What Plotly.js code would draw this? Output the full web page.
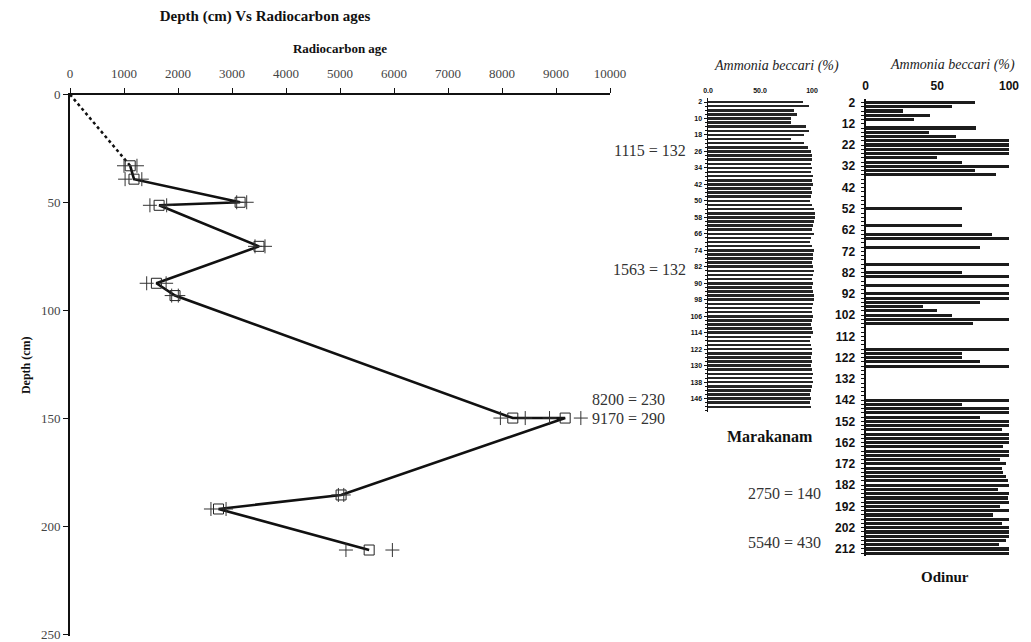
<!DOCTYPE html>
<html>
<head>
<meta charset="utf-8">
<script src="https://cdn.plot.ly/plotly-3.0.1.min.js"></script>
<style>html,body{margin:0;padding:0;background:#fff;}#chart{width:1031px;height:642px;}</style>
</head>
<body>
<div id="chart"></div>
<script>
// ---------- Main chart data: depth vs radiocarbon age ----------
const radiocarbonAge = [1115, 1185, 3150, 1650, 3500, 1600, 1945, 8200, 9170, 5020, 2750, 5540];
const sampleDepth    = [33, 39.2, 49.9, 51.3, 70.3, 87.4, 93.1, 149.8, 149.8, 185.4, 191.9, 210.9];
const ageLowError    = [1000, 1020, 3087, 1480, 3426, 1420, 1883, 7970, 8880, 4970, 2610, 5110];
const ageHighError   = [1240, 1330, 3272, 1790, 3611, 1780, 2006, 8430, 9460, 5070, 2890, 5970];
const dateLabels     = ['1115 = 132', '1563 = 132', '8200 = 230', '9170 = 290', '2750 = 140', '5540 = 430'];
const ageTicks       = [0, 1000, 2000, 3000, 4000, 5000, 6000, 7000, 8000, 9000, 10000];
const ageTickText    = ['0', '1000', '2000', '3000', '4000', '5000', '6000', '7000', '8000', '9000', '10000'];
const depthTicks     = [0, 50, 100, 150, 200, 250];

// ---------- Marakanam: Ammonia beccari (%) ----------
const maraDepth = [2,4,6,8,10,12,14,16,18,20,22,24,26,28,30,32,34,36,38,40,42,44,46,48,50,52,54,56,58,60,
  62,64,66,68,70,72,74,76,78,80,82,84,86,88,90,92,94,96,98,100,102,104,106,108,110,112,114,116,118,120,
  122,124,126,128,130,132,134,136,138,140,142,144,146,148,150];
const maraPct = [91,97,83,86,80,80,94,97,92,80,92,96,99,100,100,99,100,99,101,100,101,99,100,99,98,100,102,103,103,102,
  101,100,102,99,98,100,102,101,101,100,101,102,101,100,101,100,101,102,102,101,100,100,101,100,99,100,101,99,98,99,
  100,100,99,100,99,100,101,100,101,100,99,98,99,98,99];
const maraTicks = [2,10,18,26,34,42,50,58,66,74,82,90,98,106,114,122,130,138,146];
const maraXTicks = [0, 50, 100];
const maraXTickText = ['0.0', '50.0', '100'];

// ---------- Odinur: Ammonia beccari (%) ----------
const odiDepth = [2,4,6,8,10,14,16,18,20,22,24,26,28,30,32,34,36,52,60,64,66,70,78,82,84,88,92,94,96,98,100,102,104,106,
  118,120,122,124,126,142,144,146,148,150,152,154,156,158,160,162,164,166,168,170,172,174,176,178,180,182,184,186,188,
  190,192,194,196,198,200,202,204,206,208,210,212,214];
const odiPct = [76,60,26,45,34,77,44,63,100,100,100,100,50,67,100,76,91,67,67,88,100,80,100,67,100,100,100,100,80,40,50,60,100,75,
  100,67,67,80,100,100,67,100,100,80,100,100,95,100,100,100,96,100,100,94,98,95,96,98,99,100,92,100,99,
  100,94,100,89,100,95,100,100,100,98,93,100,100];
const odiTicks = [2,12,22,32,42,52,62,72,82,92,102,112,122,132,142,152,162,172,182,192,202,212];
const odiXTicks = [0, 50, 100];

// ---------- helpers (pixel -> paper) ----------
const W = 1031, H = 642;
const px = v => v / W;
const py = v => 1 - v / H;

const serif = 'Liberation Serif, Times New Roman, serif';
const sans = 'Liberation Sans, Arial, sans-serif';

const traces = [
  { // dotted extrapolation to surface
    x: [0, radiocarbonAge[0]], y: [0, sampleDepth[0]],
    type: 'scatter', mode: 'lines', xaxis: 'x', yaxis: 'y',
    line: { color: '#111', width: 2.5, dash: 'dot' }, hoverinfo: 'skip', showlegend: false
  },
  { // main age-depth line
    x: radiocarbonAge, y: sampleDepth,
    type: 'scatter', mode: 'lines+markers', xaxis: 'x', yaxis: 'y',
    line: { color: '#111', width: 2.6 },
    marker: { symbol: 'square-open', size: 10, color: '#222', line: { width: 1, color: '#222' } },
    showlegend: false
  },
  { // error limits (+)
    x: ageLowError.concat(ageHighError), y: sampleDepth.concat(sampleDepth),
    type: 'scatter', mode: 'markers', xaxis: 'x', yaxis: 'y',
    marker: { symbol: 'cross-thin', size: 10, color: '#333', line: { width: 1, color: '#333' } },
    showlegend: false
  },
  {
    x: maraPct, y: maraDepth, type: 'bar', orientation: 'h', xaxis: 'x2', yaxis: 'y2',
    width: 1.25, marker: { color: '#262626', line: { width: 0 } }, showlegend: false
  },
  {
    x: odiPct, y: odiDepth, type: 'bar', orientation: 'h', xaxis: 'x3', yaxis: 'y3',
    width: 1.45, marker: { color: '#1c1c1c', line: { width: 0 } }, showlegend: false
  }
];

const annotations = [
  { text: dateLabels[0], x: px(688), y: py(150), xanchor: 'right' },
  { text: dateLabels[1], x: px(688), y: py(270), xanchor: 'right' },
  { text: dateLabels[2], x: px(590), y: py(399), xanchor: 'left' },
  { text: dateLabels[3], x: px(590), y: py(418), xanchor: 'left' },
  { text: dateLabels[4], x: px(823), y: py(493), xanchor: 'right' },
  { text: dateLabels[5], x: px(823), y: py(542), xanchor: 'right' }
].map(a => Object.assign({ xref: 'paper', yref: 'paper', yanchor: 'middle', showarrow: false,
  font: { family: serif, size: 16, color: '#333' } }, a));

annotations.push(
  { text: '<i>Ammonia beccari (%)</i>', x: px(776), y: py(66), xref: 'paper', yref: 'paper', showarrow: false,
    xanchor: 'center', yanchor: 'middle', font: { family: serif, size: 14, color: '#222' } },
  { text: '<i>Ammonia beccari (%)</i>', x: px(952), y: py(65), xref: 'paper', yref: 'paper', showarrow: false,
    xanchor: 'center', yanchor: 'middle', font: { family: serif, size: 14, color: '#222' } },
  { text: '<b>Marakanam</b>', x: px(770), y: py(436), xref: 'paper', yref: 'paper', showarrow: false,
    xanchor: 'center', yanchor: 'middle', font: { family: serif, size: 16, color: '#111' } },
  { text: '<b>Odinur</b>', x: px(945), y: py(577), xref: 'paper', yref: 'paper', showarrow: false,
    xanchor: 'center', yanchor: 'middle', font: { family: serif, size: 15, color: '#111' } }
);

const layout = {
  width: W, height: H,
  margin: { l: 0, r: 0, t: 0, b: 0 },
  paper_bgcolor: '#fff', plot_bgcolor: 'rgba(0,0,0,0)',
  showlegend: false,
  title: { text: '<b>Depth (cm) Vs Radiocarbon ages</b>', x: px(265), y: py(16), xref: 'paper', yref: 'container',
    xanchor: 'center', yanchor: 'middle', font: { family: serif, size: 15, color: '#111' } },
  xaxis: {
    domain: [px(70), px(610)], range: [0, 10000], side: 'top', anchor: 'y',
    tickmode: 'array', tickvals: ageTicks, ticktext: ageTickText,
    showgrid: false, zeroline: false, showline: true, linecolor: '#111', linewidth: 2,
    ticks: 'outside', ticklen: 5, tickcolor: '#111', tickwidth: 1,
    tickfont: { family: serif, size: 13, color: '#444' }, ticklabelstandoff: 4,
    ticklabeloverflow: 'allow',
    title: { text: '<b>Radiocarbon age</b>', standoff: 10, font: { family: serif, size: 13, color: '#111' } },
    automargin: false, fixedrange: true
  },
  yaxis: {
    domain: [py(636), py(94.5)], range: [250.7, 0], anchor: 'x',
    tickmode: 'array', tickvals: depthTicks,
    showgrid: false, zeroline: false, showline: true, linecolor: '#111', linewidth: 2,
    ticks: 'outside', ticklen: 5, tickcolor: '#111',
    tickfont: { family: serif, size: 13, color: '#444' },
    ticklabeloverflow: 'allow',
    title: { text: '<b>Depth (cm)</b>', standoff: 8, font: { family: serif, size: 12, color: '#111' } },
    automargin: false, fixedrange: true
  },
  xaxis2: {
    domain: [px(708), px(708 + 1.04 * 108)], range: [0, 108], side: 'top', anchor: 'y2',
    tickmode: 'array', tickvals: maraXTicks, ticktext: maraXTickText,
    showgrid: false, zeroline: false, showline: false, ticks: '',
    tickfont: { family: sans, size: 7, color: '#111', weight: 'bold' }, ticklabelstandoff: 3,
    automargin: false, fixedrange: true
  },
  yaxis2: {
    domain: [py(412), py(98)], range: [152.5, 0.06], anchor: 'x2',
    tickmode: 'array', tickvals: maraTicks,
    showgrid: false, zeroline: false, showline: true, linecolor: '#111', linewidth: 1.5,
    ticks: 'outside', ticklen: 3, tickcolor: '#111',
    minor: { dtick: 2, tick0: 0, ticks: 'outside', ticklen: 2, tickcolor: '#111', showgrid: false },
    tickfont: { family: sans, size: 7, color: '#111', weight: 'bold' },
    automargin: false, fixedrange: true
  },
  xaxis3: {
    domain: [px(865.5), px(865.5 + 1.435 * 105)], range: [0, 105], side: 'top', anchor: 'y3',
    tickmode: 'array', tickvals: odiXTicks,
    showgrid: false, zeroline: false, showline: false, ticks: '',
    tickfont: { family: sans, size: 12, color: '#111', weight: 'bold' }, ticklabelstandoff: 6,
    automargin: false, fixedrange: true
  },
  yaxis3: {
    domain: [py(556), py(99)], range: [215.3, 0.35], anchor: 'x3',
    tickmode: 'array', tickvals: odiTicks,
    showgrid: false, zeroline: false, showline: true, linecolor: '#111', linewidth: 2,
    ticks: 'outside', ticklen: 3, tickcolor: '#111',
    minor: { dtick: 2, tick0: 0, ticks: 'outside', ticklen: 3, tickcolor: '#111', showgrid: false },
    tickfont: { family: sans, size: 12, color: '#111', weight: 'bold' }, ticklabelstandoff: 3,
    automargin: false, fixedrange: true
  },
  annotations: annotations,
  bargap: 0
};

Plotly.newPlot('chart', traces, layout, { staticPlot: true, displayModeBar: false });
</script>
</body>
</html>
